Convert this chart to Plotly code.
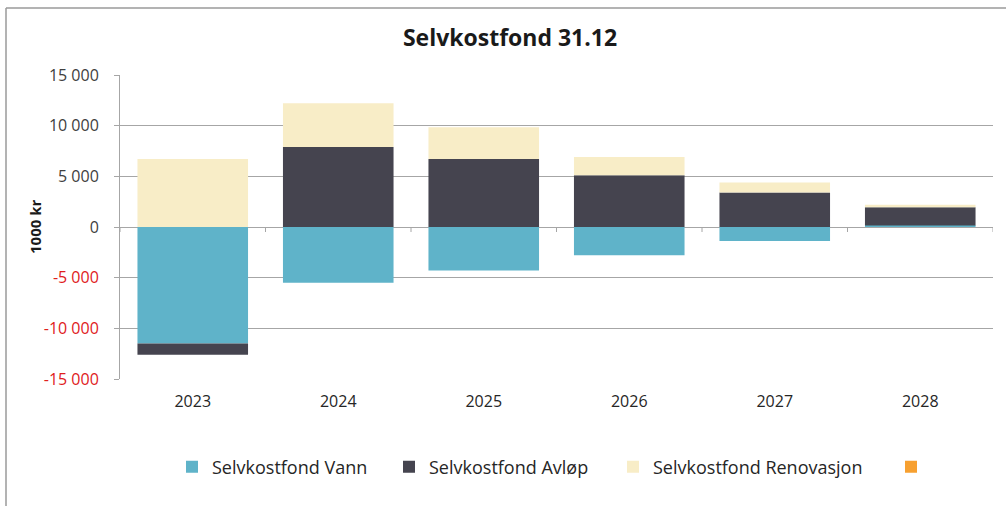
import plotly.graph_objects as go

years = ["2023", "2024", "2025", "2026", "2027", "2028"]
vann = [-11500, -5500, -4300, -2800, -1370, 150]
avlop = [-1100, 7900, 6700, 5100, 3400, 1800]
renovasjon = [6700, 4300, 3150, 1800, 1000, 250]
other = [None, None, None, None, None, None]

tick_vals = [15000, 10000, 5000, 0, -5000, -10000, -15000]
tick_text = ["15 000", "10 000", "5 000", "0", "-5 000", "-10 000", "-15 000"]

L, R, T, B = 120, 13, 75, 127
W, H = 1006, 506
pw, ph = W - L - R, H - T - B

legend_left_px = [172, 389, 613, 891]
leg_y = -(467 - (H - B)) / ph

series = [
    (vann, "Selvkostfond Vann", "#5fb3c9"),
    (avlop, "Selvkostfond Avløp", "#45444f"),
    (renovasjon, "Selvkostfond Renovasjon", "#f8edc7"),
    (other, " ", "#f7a030"),
]

fig = go.Figure()
legend_layouts = {}
for i, (vals, name, col) in enumerate(series):
    lname = f"legend{i + 2}"
    fig.add_bar(x=years, y=vals, name=name, legend=lname, showlegend=True,
                marker=dict(color=col, line=dict(width=0)))
    legend_layouts[lname] = dict(orientation="h", x=(legend_left_px[i] - L) / pw, xanchor="left",
                                 y=leg_y, yanchor="middle", bgcolor="rgba(0,0,0,0)",
                                 font=dict(size=18, color="#262626", family="Open Sans"),
                                 itemclick=False, visible=True)

ttext = []
for v, t in zip(tick_vals, tick_text):
    if v < 0:
        ttext.append(f"<span style='color:#e0201c'>{t}</span>")
    else:
        ttext.append(t)

grid = "#a6a6a6"
shapes = []
for i in range(len(years) + 1):
    shapes.append(dict(type="line", xref="x", yref="y", x0=i - 0.5, x1=i - 0.5,
                       ysizemode="pixel", yanchor=0, y0=0, y1=-5,
                       line=dict(color=grid, width=1)))
bx = (6 - L) / pw
by = 1 + (T - 8) / ph
shapes.append(dict(type="line", xref="paper", yref="paper", x0=bx, x1=bx, y0=by, y1=-(B + 5) / ph,
                   line=dict(color="#9a9a9a", width=1.5)))
shapes.append(dict(type="line", xref="paper", yref="paper", x0=bx, x1=1 + (R + 5) / pw, y0=by, y1=by,
                   line=dict(color="#9a9a9a", width=1.5)))

fig.update_layout(
    width=W, height=H,
    showlegend=True,
    margin=dict(l=L, r=R, t=T, b=B, autoexpand=False),
    paper_bgcolor="white", plot_bgcolor="white",
    barmode="relative", bargap=0.24,
    font=dict(family="Open Sans", color="#404040"),
    title=dict(text="<b>Selvkostfond 31.12</b>", x=510 / W, xanchor="center", y=1 - 38 / H, yanchor="middle",
               font=dict(size=23, color="#1a1a1a", family="Open Sans")),
    xaxis=dict(type="category", showgrid=False, showline=False, ticks="", zeroline=False,
               tickfont=dict(size=16, color="#262626"), ticklabelstandoff=11,
               range=[-0.5, len(years) - 0.5]),
    yaxis=dict(range=[-15000, 15000], tickvals=tick_vals, ticktext=ttext, showgrid=True,
               gridcolor=grid, gridwidth=1, zeroline=True, zerolinecolor=grid, zerolinewidth=1,
               showline=True, linecolor=grid, linewidth=1, ticks="outside", ticklen=5, tickcolor=grid,
               tickfont=dict(size=16, color="#404040"), ticklabelstandoff=12),
    shapes=shapes,
    annotations=[dict(text="<b>1000 kr</b>", textangle=-90, xref="paper", yref="paper",
                      x=(35 - L) / pw, y=0.5, xanchor="center", yanchor="middle", showarrow=False,
                      font=dict(size=15, color="#1a1a1a"))],
    **legend_layouts,
)

fig.write_html("out.html", config={"displayModeBar": False},
               post_script="document.body.style.margin='0';document.body.style.padding='0';")
